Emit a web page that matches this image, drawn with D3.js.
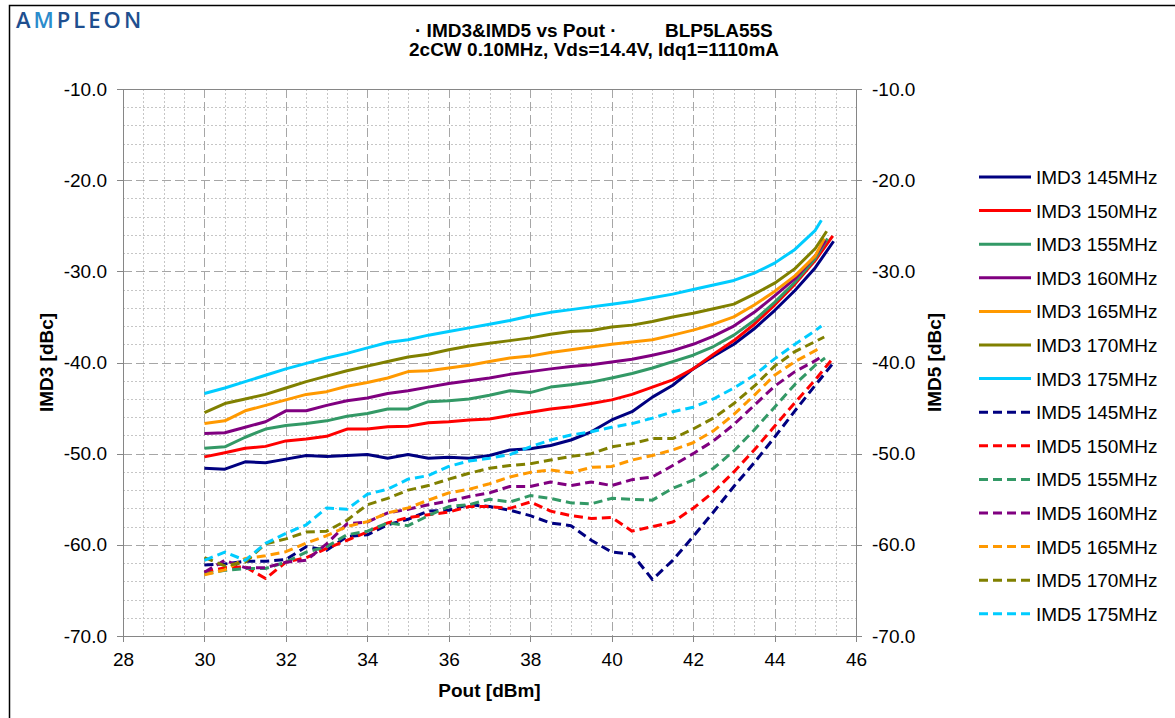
<!DOCTYPE html>
<html lang="en">
<head>
  <meta charset="UTF-8">
  <title>IMD3&amp;IMD5 vs Pout</title>
  <style>
    body{ margin:0; background:#fff; }
    svg{ display:block; font-family:"Liberation Sans", Arial, sans-serif; }
    .axis path, .axis line{ stroke:#868686; stroke-width:1; shape-rendering:crispEdges; }
    .axis text{ font-size:19px; fill:#000; }
    .grid-minor{ stroke:#c6c6c6; stroke-width:1; stroke-dasharray:2,2; shape-rendering:crispEdges; }
    .grid-major{ stroke:#a6a6a6; stroke-width:1; stroke-dasharray:9,4; shape-rendering:crispEdges; }
    .series{ fill:none; stroke-width:3; stroke-linejoin:round; }
    .title{ font-size:19px; font-weight:bold; }
    .ax-title{ font-size:19px; font-weight:bold; }
    .legend text{ font-size:19px; }
  </style>
</head>
<body>
<svg id="chart" width="1175" height="718"></svg>

<script src="https://cdn.jsdelivr.net/npm/d3@7"></script>
<script>
  "use strict";

  // Pout [dBm] points shared by all curves, the last point of each curve comes from endPout
  var pout = [30,30.5,31,31.5,32,32.5,33,33.5,34,34.5,35,35.5,36,36.5,37,37.5,38,38.5,39,39.5,40,40.5,41,41.5,42,42.5,43,43.5,44,44.5,45];
  var endPout3 = [45.45,45.43,45.3,45.25,45.22,45.28,45.15];
  var endPout5 = [45.45,45.42,45.24,45.1,45.1,45.22,45.15];

  var freqs = ["145MHz","150MHz","155MHz","160MHz","165MHz","170MHz","175MHz"];

  var imd3_145 = [-51.6,-51.7,-50.9,-51.0,-50.6,-50.2,-50.3,-50.2,-50.1,-50.5,-50.1,-50.5,-50.4,-50.5,-50.2,-49.6,-49.45,-49.1,-48.5,-47.6,-46.3,-45.4,-43.8,-42.5,-40.7,-39.3,-38.0,-36.3,-34.3,-32.1,-29.6,-26.7];
  var imd3_150 = [-50.35,-49.9,-49.4,-49.2,-48.6,-48.4,-48.1,-47.3,-47.3,-47.05,-47.0,-46.6,-46.5,-46.3,-46.2,-45.8,-45.45,-45.1,-44.85,-44.5,-44.1,-43.5,-42.7,-41.9,-40.7,-39.1,-37.6,-35.8,-33.7,-31.4,-28.8,-26.1];
  var imd3_155 = [-49.4,-49.25,-48.2,-47.3,-46.9,-46.7,-46.4,-45.9,-45.6,-45.1,-45.1,-44.3,-44.2,-44.0,-43.6,-43.1,-43.3,-42.7,-42.45,-42.15,-41.7,-41.2,-40.6,-39.9,-39.2,-38.25,-37.0,-35.4,-33.4,-31.2,-28.6,-26.4];
  var imd3_160 = [-47.8,-47.7,-47.1,-46.5,-45.3,-45.3,-44.7,-44.2,-43.9,-43.4,-43.1,-42.7,-42.3,-42.0,-41.7,-41.3,-41.0,-40.7,-40.45,-40.25,-39.95,-39.65,-39.2,-38.7,-38.0,-37.1,-36.0,-34.5,-32.7,-30.8,-28.3,-26.6];
  var imd3_165 = [-46.7,-46.4,-45.3,-44.7,-44.1,-43.5,-43.2,-42.6,-42.2,-41.7,-41.0,-40.9,-40.6,-40.3,-39.9,-39.5,-39.3,-38.9,-38.6,-38.3,-38.0,-37.75,-37.5,-37.0,-36.45,-35.8,-35.0,-33.7,-32.2,-30.5,-28.3,-26.4];
  var imd3_170 = [-45.5,-44.5,-44.0,-43.5,-42.8,-42.1,-41.5,-40.9,-40.4,-39.9,-39.4,-39.1,-38.6,-38.2,-37.9,-37.6,-37.3,-36.9,-36.6,-36.5,-36.1,-35.9,-35.5,-35.0,-34.6,-34.1,-33.6,-32.5,-31.3,-29.7,-27.5,-25.6];
  var imd3_175 = [-43.4,-42.8,-42.1,-41.4,-40.7,-40.1,-39.5,-39.0,-38.4,-37.8,-37.5,-37.0,-36.6,-36.2,-35.8,-35.4,-34.9,-34.5,-34.2,-33.9,-33.6,-33.3,-32.9,-32.5,-32.0,-31.5,-31.0,-30.2,-29.1,-27.6,-25.5,-24.4];

  var imd5_145 = [-62.2,-62.1,-61.8,-61.8,-61.6,-60.2,-60.6,-59.1,-58.9,-57.8,-57.2,-56.3,-56.2,-55.6,-55.8,-56.2,-56.8,-57.6,-57.9,-59.5,-60.8,-61.0,-63.8,-61.7,-59.1,-56.4,-53.6,-51.0,-48.2,-45.3,-42.5,-40.0];
  var imd5_150 = [-63.0,-62.5,-62.4,-63.7,-61.9,-61.4,-60.4,-59.5,-58.6,-57.6,-57.0,-56.7,-56.4,-55.8,-55.8,-56.0,-55.3,-56.3,-56.8,-57.1,-57.0,-58.5,-58.0,-57.5,-56.0,-54.2,-52.0,-49.6,-47.0,-44.4,-41.9,-39.6];
  var imd5_155 = [-63.2,-62.8,-62.6,-62.6,-61.9,-60.8,-60.2,-58.9,-58.5,-57.6,-57.9,-56.8,-55.8,-55.6,-55.0,-55.3,-54.6,-54.9,-55.4,-55.5,-54.9,-55.0,-55.1,-53.8,-52.9,-51.6,-49.7,-47.4,-44.9,-42.4,-40.3,-39.5];
  var imd5_160 = [-63.0,-61.7,-62.5,-62.5,-61.9,-61.7,-59.9,-57.7,-57.5,-56.5,-56.1,-55.6,-55.2,-54.7,-54.3,-53.6,-53.6,-53.1,-53.5,-53.1,-53.5,-52.85,-52.55,-51.3,-50.0,-48.6,-46.8,-44.7,-42.6,-41.0,-39.8,-39.5];
  var imd5_165 = [-63.3,-62.75,-61.5,-61.2,-60.75,-59.8,-59.0,-58.0,-57.45,-56.5,-55.95,-55.1,-54.3,-53.9,-53.3,-52.55,-52.05,-51.8,-52.1,-51.5,-51.4,-50.7,-50.2,-49.6,-48.8,-47.5,-45.7,-43.6,-41.4,-39.9,-38.7,-38.4];
  var imd5_170 = [-61.4,-62.3,-61.9,-59.9,-59.35,-58.6,-58.5,-57.3,-55.6,-54.9,-54.0,-53.5,-52.8,-52.15,-51.6,-51.3,-51.1,-50.7,-50.3,-50.0,-49.25,-48.9,-48.35,-48.35,-47.3,-46.1,-44.5,-42.6,-40.4,-38.8,-37.7,-37.2];
  var imd5_175 = [-61.7,-60.8,-61.7,-59.85,-58.75,-57.8,-55.95,-56.1,-54.45,-53.9,-52.8,-52.4,-51.4,-50.8,-50.5,-50.1,-49.25,-48.5,-47.95,-47.6,-47.1,-46.7,-46.1,-45.4,-44.9,-44.0,-42.8,-41.4,-39.6,-38.0,-36.5,-36.0];

  var xTicks = [28,30,32,34,36,38,40,42,44,46];
  var yTicks = [-70,-60,-50,-40,-30,-20,-10];

  var colors = ["#000080","#ff0000","#339966","#800080","#ff9900","#808000","#00ccff"];

  var imd3 = [imd3_145,imd3_150,imd3_155,imd3_160,imd3_165,imd3_170,imd3_175];
  var imd5 = [imd5_145,imd5_150,imd5_155,imd5_160,imd5_165,imd5_170,imd5_175];

  function toPoints(vals, last){
    var pts = pout.map(function(p,i){ return [p, vals[i]]; });
    pts.push([last, vals[vals.length-1]]);
    return pts;
  }

  var series = [];
  imd3.forEach(function(v,i){
    series.push({name:"IMD3 " + freqs[i], color:colors[i], dashed:false, pts:toPoints(v, endPout3[i])});
  });
  imd5.forEach(function(v,i){
    series.push({name:"IMD5 " + freqs[i], color:colors[i], dashed:true, pts:toPoints(v, endPout5[i])});
  });

  var pLeft = 123, pRight = 856, pTop = 89, pBottom = 636;

  var svg = d3.select("#chart");

  var x = d3.scaleLinear().domain([28,46]).range([pLeft,pRight]);
  var y = d3.scaleLinear().domain([-70,-10]).range([pBottom,pTop]);

  // page frame
  svg.append("path")
    .attr("d","M9.5,718 V5.5 H1175")
    .attr("fill","none")
    .attr("stroke","#000")
    .attr("stroke-width",1.5);

  // logo
  var logo = svg.append("text")
    .attr("x",16).attr("y",28)
    .style("font-family","'Open Sans', sans-serif")
    .style("font-weight","600")
    .style("font-size","22px")
    .style("letter-spacing","3px")
    .attr("fill","#1f4f8f");
  logo.append("tspan").text("A");
  logo.append("tspan").attr("fill","#2b8ccc").text("M");
  logo.append("tspan").text("PLEON");

  // titles
  svg.append("text").attr("class","title").attr("x",415).attr("y",37).text("\u00b7 IMD3&IMD5  vs Pout \u00b7");
  svg.append("text").attr("class","title").attr("x",665).attr("y",37).text("BLP5LA55S");
  svg.append("text").attr("class","title").attr("x",594).attr("y",56)
    .attr("text-anchor","middle")
    .text("2cCW 0.10MHz, Vds=14.4V, Idq1=1110mA");

  // grid
  var g = svg.append("g");
  g.selectAll(".gxm").data(d3.range(28.5,46,0.5).filter(function(d){ return d % 2 !== 0; }))
    .enter().append("line").attr("class","grid-minor")
    .attr("x1",function(d){ return Math.round(x(d))+0.5; })
    .attr("x2",function(d){ return Math.round(x(d))+0.5; })
    .attr("y1",pTop).attr("y2",pBottom);
  g.selectAll(".gym").data(d3.range(-68,-10,2).filter(function(d){ return d % 10 !== 0; }))
    .enter().append("line").attr("class","grid-minor")
    .attr("y1",function(d){ return Math.round(y(d))+0.5; })
    .attr("y2",function(d){ return Math.round(y(d))+0.5; })
    .attr("x1",pLeft).attr("x2",pRight);
  g.selectAll(".gxM").data(xTicks.slice(1,-1))
    .enter().append("line").attr("class","grid-major")
    .attr("x1",function(d){ return Math.round(x(d))+0.5; })
    .attr("x2",function(d){ return Math.round(x(d))+0.5; })
    .attr("y1",pTop).attr("y2",pBottom);
  g.selectAll(".gyM").data(yTicks.slice(1,-1))
    .enter().append("line").attr("class","grid-major")
    .attr("y1",function(d){ return Math.round(y(d))+0.5; })
    .attr("y2",function(d){ return Math.round(y(d))+0.5; })
    .attr("x1",pLeft).attr("x2",pRight);
  g.append("line")
    .attr("x1",pLeft).attr("x2",pRight)
    .attr("y1",pTop+0.5).attr("y2",pTop+0.5)
    .attr("stroke","#868686");

  // axes
  var fmt = function(d){ return d.toFixed(1); };
  svg.append("g").attr("class","axis")
    .attr("transform","translate(0," + pBottom + ")")
    .call(d3.axisBottom(x).tickValues(xTicks).tickFormat(d3.format("d")).tickSizeInner(6).tickSizeOuter(0).tickPadding(11));
  svg.append("g").attr("class","axis")
    .attr("transform","translate(" + pLeft + ",0)")
    .call(d3.axisLeft(y).tickValues(yTicks).tickFormat(fmt).tickSizeInner(6).tickSizeOuter(0).tickPadding(10));
  svg.append("g").attr("class","axis")
    .attr("transform","translate(" + pRight + ",0)")
    .call(d3.axisRight(y).tickValues(yTicks).tickFormat(fmt).tickSizeInner(6).tickSizeOuter(0).tickPadding(10));

  svg.append("text").attr("class","ax-title")
    .attr("x",(pLeft+pRight)/2).attr("y",697)
    .attr("text-anchor","middle").text("Pout [dBm]");
  svg.append("text").attr("class","ax-title")
    .attr("transform","translate(53," + (pTop+pBottom)/2 + ") rotate(-90)")
    .attr("text-anchor","middle").text("IMD3 [dBc]");
  svg.append("text").attr("class","ax-title")
    .attr("transform","translate(941," + (pTop+pBottom)/2 + ") rotate(-90)")
    .attr("text-anchor","middle").text("IMD5 [dBc]");

  // curves
  var line = d3.line()
    .x(function(d){ return x(d[0]); })
    .y(function(d){ return y(d[1]); });

  svg.append("g").selectAll("path")
    .data(series)
    .enter()
    .append("path")
    .attr("class","series")
    .attr("stroke",function(d){ return d.color; })
    .attr("stroke-dasharray",function(d){ return d.dashed ? "9,5" : null; })
    .attr("d",function(d){ return line(d.pts); });

  // legend
  var lg = svg.append("g").attr("class","legend");
  var item = lg.selectAll("g")
    .data(series)
    .enter()
    .append("g")
    .attr("transform",function(d,i){ return "translate(979," + (177 + i*33.6) + ")"; });
  item.append("line")
    .attr("x1",0).attr("x2",52)
    .attr("stroke",function(d){ return d.color; })
    .attr("stroke-width",3)
    .attr("stroke-dasharray",function(d){ return d.dashed ? "9,5" : null; });
  item.append("text")
    .attr("x",57).attr("y",7)
    .text(function(d){ return d.name; });
</script>
</body>
</html>
